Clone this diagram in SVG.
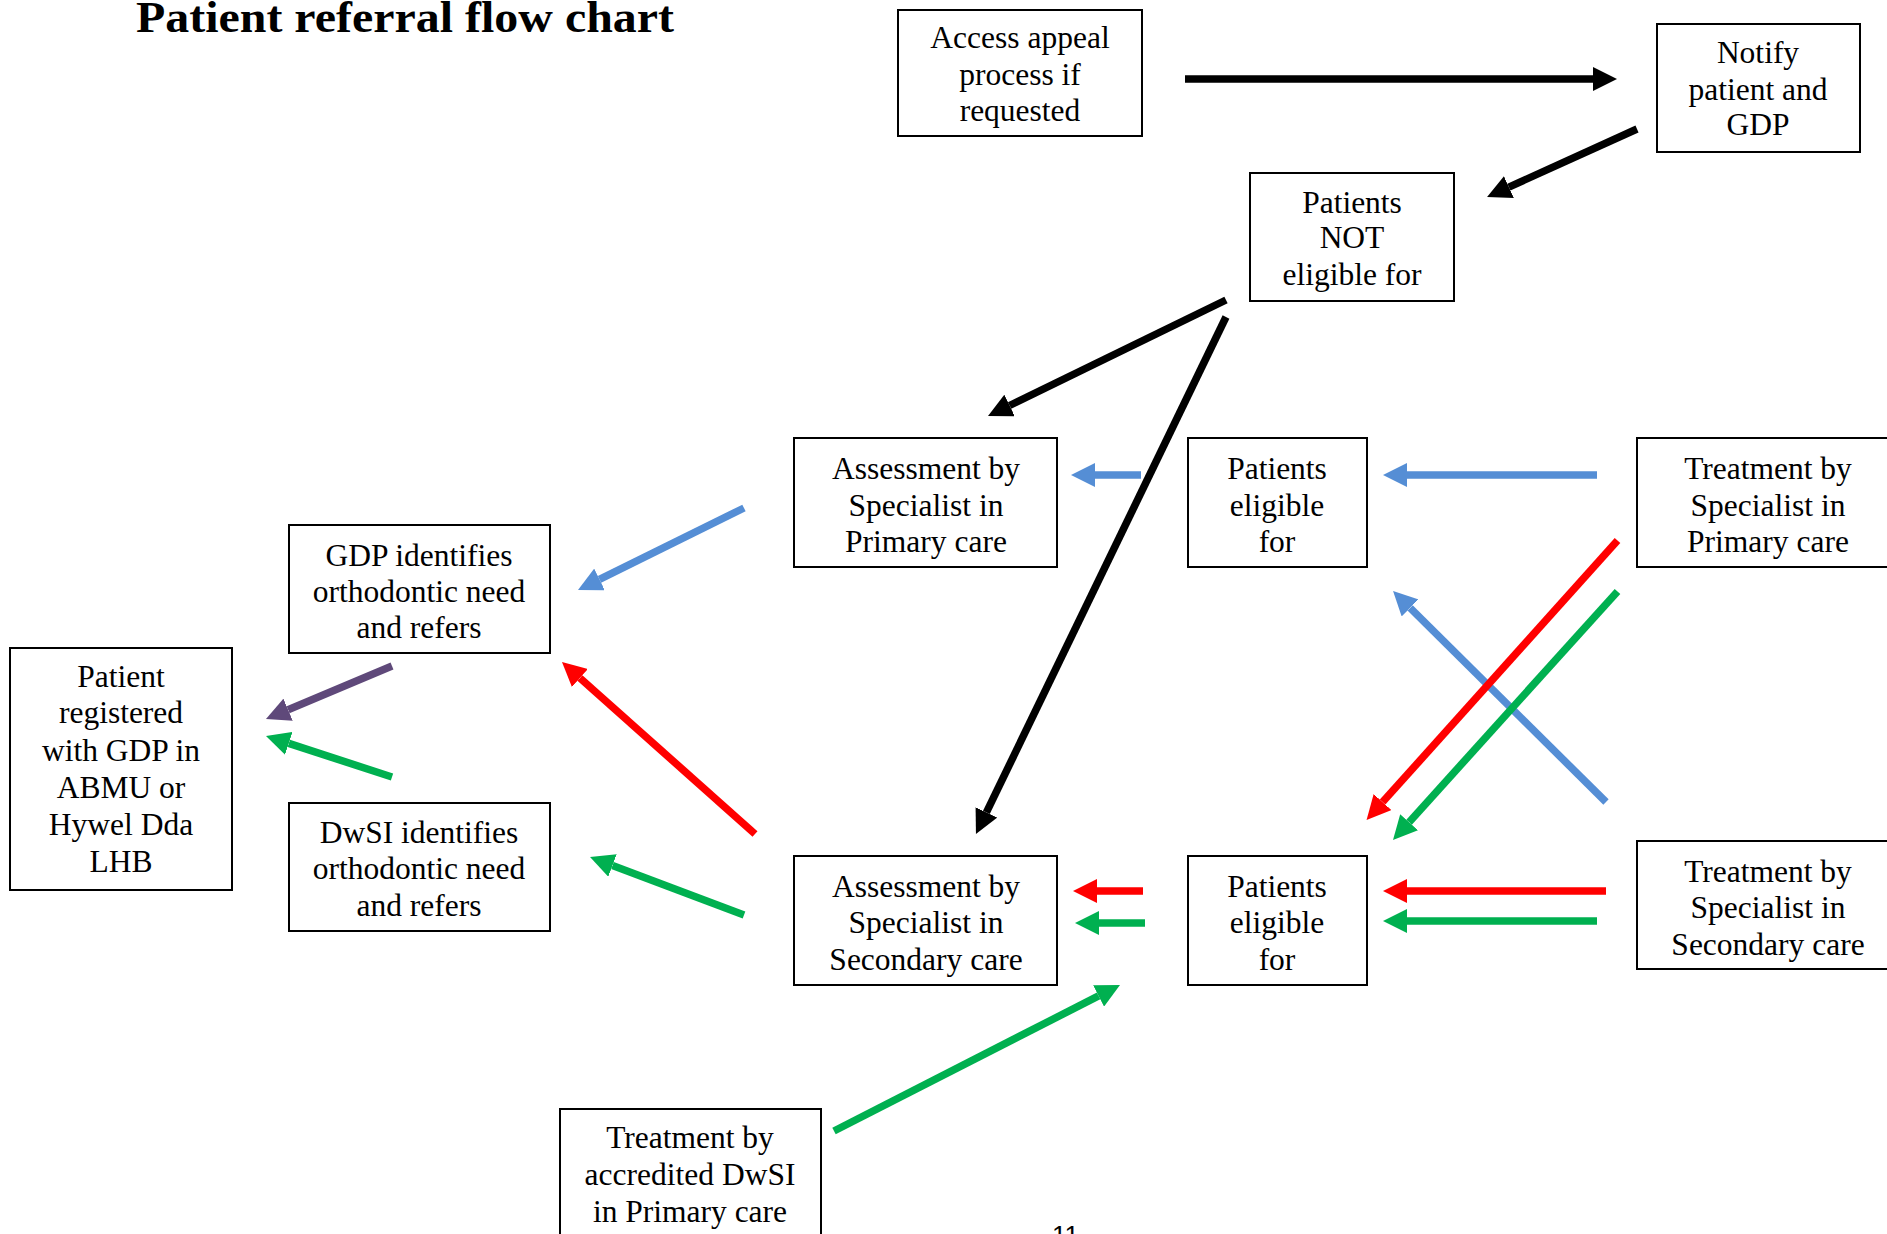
<svg xmlns="http://www.w3.org/2000/svg" width="1887" height="1234" viewBox="0 0 1887 1234">
<style>
.box{fill:#fff;stroke:#000;stroke-width:2}
.t{font-family:"Liberation Serif","Times New Roman",serif;font-size:31.5px;fill:#000;text-anchor:middle}
.c{fill:none;stroke-width:7.5;stroke-linecap:butt}
.k{stroke:#000}.b{stroke:#558ED5}.r{stroke:#FF0000}.g{stroke:#00B050}.p{stroke:#5F497A}
</style>
<defs>
<marker id="ak" markerUnits="userSpaceOnUse" markerWidth="24" markerHeight="24" refX="0" refY="12" orient="auto" viewBox="0 0 24 24"><path d="M0,0 L24,12 L0,24 z" fill="#000"/></marker>
<marker id="ab" markerUnits="userSpaceOnUse" markerWidth="24" markerHeight="24" refX="0" refY="12" orient="auto" viewBox="0 0 24 24"><path d="M0,0 L24,12 L0,24 z" fill="#558ED5"/></marker>
<marker id="ar" markerUnits="userSpaceOnUse" markerWidth="24" markerHeight="24" refX="0" refY="12" orient="auto" viewBox="0 0 24 24"><path d="M0,0 L24,12 L0,24 z" fill="#FF0000"/></marker>
<marker id="ag" markerUnits="userSpaceOnUse" markerWidth="24" markerHeight="24" refX="0" refY="12" orient="auto" viewBox="0 0 24 24"><path d="M0,0 L24,12 L0,24 z" fill="#00B050"/></marker>
<marker id="ap" markerUnits="userSpaceOnUse" markerWidth="24" markerHeight="24" refX="0" refY="12" orient="auto" viewBox="0 0 24 24"><path d="M0,0 L24,12 L0,24 z" fill="#5F497A"/></marker>
</defs>
<rect width="1887" height="1234" fill="#fff"/>
<text x="136" y="32" font-family="'Liberation Serif','Times New Roman',serif" font-size="44" font-weight="bold" textLength="538" lengthAdjust="spacingAndGlyphs">Patient referral flow chart</text>

<g id="n-access"><rect class="box" x="898" y="10" width="244" height="126"/>
<text class="t"><tspan x="1020" y="48">Access appeal</tspan><tspan x="1020" y="85">process if</tspan><tspan x="1020" y="121">requested</tspan></text></g>
<g id="n-notify"><rect class="box" x="1657" y="24" width="203" height="128"/>
<text class="t"><tspan x="1758" y="63">Notify</tspan><tspan x="1758" y="100">patient and</tspan><tspan x="1758" y="135">GDP</tspan></text></g>
<g id="n-not"><rect class="box" x="1250" y="173" width="204" height="128"/>
<text class="t"><tspan x="1352" y="213">Patients</tspan><tspan x="1352" y="248">NOT</tspan><tspan x="1352" y="285">eligible for</tspan></text></g>
<g id="n-assess-pri"><rect class="box" x="794" y="438" width="263" height="129"/>
<text class="t"><tspan x="926" y="479">Assessment by</tspan><tspan x="926" y="516">Specialist in</tspan><tspan x="926" y="552">Primary care</tspan></text></g>
<g id="n-elig-top"><rect class="box" x="1188" y="438" width="179" height="129"/>
<text class="t"><tspan x="1277" y="479">Patients</tspan><tspan x="1277" y="516">eligible</tspan><tspan x="1277" y="552">for</tspan></text></g>
<g id="n-treat-pri"><rect class="box" x="1637" y="438" width="270" height="129"/>
<text class="t"><tspan x="1768" y="479">Treatment by</tspan><tspan x="1768" y="516">Specialist in</tspan><tspan x="1768" y="552">Primary care</tspan></text></g>
<g id="n-gdp"><rect class="box" x="289" y="525" width="261" height="128"/>
<text class="t"><tspan x="419" y="566">GDP identifies</tspan><tspan x="419" y="602">orthodontic need</tspan><tspan x="419" y="638">and refers</tspan></text></g>
<g id="n-patient"><rect class="box" x="10" y="648" width="222" height="242"/>
<text class="t"><tspan x="121" y="687">Patient</tspan><tspan x="121" y="723">registered</tspan><tspan x="121" y="761">with GDP in</tspan><tspan x="121" y="798">ABMU or</tspan><tspan x="121" y="835">Hywel Dda</tspan><tspan x="121" y="872">LHB</tspan></text></g>
<g id="n-dwsi"><rect class="box" x="289" y="803" width="261" height="128"/>
<text class="t"><tspan x="419" y="843">DwSI identifies</tspan><tspan x="419" y="879">orthodontic need</tspan><tspan x="419" y="916">and refers</tspan></text></g>
<g id="n-assess-sec"><rect class="box" x="794" y="856" width="263" height="129"/>
<text class="t"><tspan x="926" y="897">Assessment by</tspan><tspan x="926" y="933">Specialist in</tspan><tspan x="926" y="970">Secondary care</tspan></text></g>
<g id="n-elig-bot"><rect class="box" x="1188" y="856" width="179" height="129"/>
<text class="t"><tspan x="1277" y="897">Patients</tspan><tspan x="1277" y="933">eligible</tspan><tspan x="1277" y="970">for</tspan></text></g>
<g id="n-treat-sec"><rect class="box" x="1637" y="841" width="270" height="128"/>
<text class="t"><tspan x="1768" y="882">Treatment by</tspan><tspan x="1768" y="918">Specialist in</tspan><tspan x="1768" y="955">Secondary care</tspan></text></g>
<g id="n-accred"><rect class="box" x="560" y="1109" width="261" height="140"/>
<text class="t"><tspan x="690" y="1148">Treatment by</tspan><tspan x="690" y="1185">accredited DwSI</tspan><tspan x="690" y="1222">in Primary care</tspan></text></g>

<g id="connectors">
<line class="c k" x1="1185" y1="79" x2="1593" y2="79" marker-end="url(#ak)"/>
<line class="c k" x1="1637" y1="129" x2="1508.9" y2="187.1" marker-end="url(#ak)"/>
<line class="c k" x1="1226" y1="300" x2="1009.6" y2="405.5" marker-end="url(#ak)"/>
<line class="c k" x1="1226" y1="317" x2="986.4" y2="812.4" marker-end="url(#ak)"/>
<line class="c b" x1="1597" y1="475" x2="1407" y2="475" marker-end="url(#ab)"/>
<line class="c b" x1="1141" y1="475" x2="1095" y2="475" marker-end="url(#ab)"/>
<line class="c b" x1="744" y1="508" x2="599.5" y2="579.4" marker-end="url(#ab)"/>
<line class="c b" x1="1606" y1="802" x2="1410.1" y2="607.9" marker-end="url(#ab)"/>
<line class="c r" x1="1617.5" y1="540.5" x2="1382.6" y2="802.1" marker-end="url(#ar)"/>
<line class="c g" x1="1617.5" y1="591.4" x2="1409.1" y2="822.2" marker-end="url(#ag)"/>
<line class="c r" x1="1606" y1="891" x2="1407" y2="891" marker-end="url(#ar)"/>
<line class="c g" x1="1597" y1="921" x2="1407" y2="921" marker-end="url(#ag)"/>
<line class="c r" x1="1143" y1="891" x2="1097" y2="891" marker-end="url(#ar)"/>
<line class="c g" x1="1145" y1="923" x2="1099" y2="923" marker-end="url(#ag)"/>
<line class="c g" x1="834" y1="1131" x2="1098.6" y2="995.9" marker-end="url(#ag)"/>
<line class="c r" x1="755" y1="834" x2="579.9" y2="678" marker-end="url(#ar)"/>
<line class="c g" x1="744" y1="915" x2="612.5" y2="865.5" marker-end="url(#ag)"/>
<line class="c p" x1="392" y1="666" x2="288.1" y2="709.7" marker-end="url(#ap)"/>
<line class="c g" x1="392" y1="777" x2="288.8" y2="743.4" marker-end="url(#ag)"/>
</g>
<text x="1052" y="1244" font-family="'Liberation Sans',Arial,sans-serif" font-size="26">11</text>
</svg>
